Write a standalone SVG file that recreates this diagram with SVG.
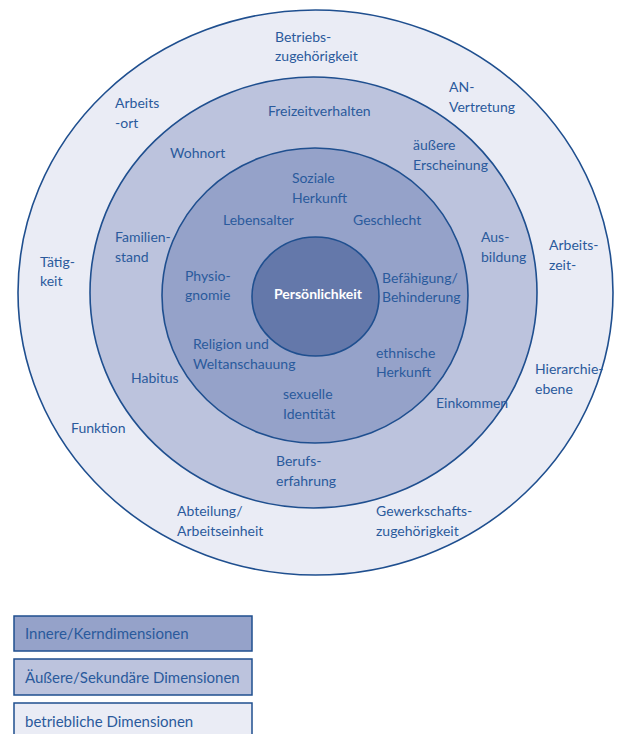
<svg xmlns="http://www.w3.org/2000/svg" width="620" height="734" viewBox="0 0 620 734">
<style>
.ring{stroke:#1f4f8f;stroke-width:1.6}
.t{font-family:Lato,"Open Sans","DejaVu Sans",sans-serif;font-size:14px;fill:#2a5a9c}
.l{font-family:Lato,"Open Sans","DejaVu Sans",sans-serif;font-size:15px;fill:#2a5a9c}
.c{font-family:Lato,"Open Sans","DejaVu Sans",sans-serif;font-size:14px;font-weight:bold;fill:#ffffff}
.lg{stroke:#1f4f8f;stroke-width:1.5}
</style>
<rect width="620" height="734" fill="#ffffff"/>
<g id="ring-betrieblich">
<ellipse class="ring" cx="315.5" cy="292.5" rx="297.5" ry="282.5" fill="#eaecf5"/>
</g>
<g id="ring-aeussere">
<ellipse class="ring" cx="313.5" cy="292.5" rx="223.5" ry="215.5" fill="#bcc3dd"/>
</g>
<g id="ring-innere">
<ellipse class="ring" cx="315" cy="295.5" rx="153" ry="147.5" fill="#95a2c9"/>
</g>
<g id="kern">
<ellipse class="ring" cx="315.5" cy="296.5" rx="63.5" ry="59.5" fill="#6478aa"/>
<text class="c" x="318" y="299" text-anchor="middle">Persönlichkeit</text>
</g>
<g id="labels-betrieblich">
<text class="t" x="275" y="42">Betriebs-</text>
<text class="t" x="275" y="61">zugehörigkeit</text>
<text class="t" x="115" y="108">Arbeits</text>
<text class="t" x="115" y="128">-ort</text>
<text class="t" x="449" y="92">AN-</text>
<text class="t" x="449" y="112">Vertretung</text>
<text class="t" x="40" y="267">Tätig-</text>
<text class="t" x="40" y="286">keit</text>
<text class="t" x="549" y="250">Arbeits-</text>
<text class="t" x="549" y="270">zeit-</text>
<text class="t" x="535" y="374">Hierarchie-</text>
<text class="t" x="535" y="394">ebene</text>
<text class="t" x="71" y="433">Funktion</text>
<text class="t" x="177" y="516">Abteilung/</text>
<text class="t" x="177" y="536">Arbeitseinheit</text>
<text class="t" x="376" y="516">Gewerkschafts-</text>
<text class="t" x="376" y="536">zugehörigkeit</text>
</g>
<g id="labels-aeussere">
<text class="t" x="268" y="116">Freizeitverhalten</text>
<text class="t" x="170" y="158">Wohnort</text>
<text class="t" x="413" y="150">äußere</text>
<text class="t" x="413" y="170">Erscheinung</text>
<text class="t" x="115" y="242">Familien-</text>
<text class="t" x="115" y="262">stand</text>
<text class="t" x="481" y="242">Aus-</text>
<text class="t" x="481" y="262">bildung</text>
<text class="t" x="131" y="383">Habitus</text>
<text class="t" x="436" y="408">Einkommen</text>
<text class="t" x="276" y="466">Berufs-</text>
<text class="t" x="276" y="486">erfahrung</text>
</g>
<g id="labels-innere">
<text class="t" x="292" y="183">Soziale</text>
<text class="t" x="292" y="203">Herkunft</text>
<text class="t" x="223" y="225">Lebensalter</text>
<text class="t" x="353" y="225">Geschlecht</text>
<text class="t" x="185" y="281">Physio-</text>
<text class="t" x="185" y="300">gnomie</text>
<text class="t" x="382" y="283">Befähigung/</text>
<text class="t" x="382" y="302">Behinderung</text>
<text class="t" x="193" y="349">Religion und</text>
<text class="t" x="193" y="369">Weltanschauung</text>
<text class="t" x="376" y="358">ethnische</text>
<text class="t" x="376" y="377">Herkunft</text>
<text class="t" x="283" y="399">sexuelle</text>
<text class="t" x="283" y="419">Identität</text>
</g>
<g id="connectors"></g>
<g id="legend">
<g id="legend-innere">
<rect class="lg" x="14" y="616" width="238" height="35" fill="#95a2c9"/>
<text class="l" x="25" y="639">Innere/Kerndimensionen</text>
</g>
<g id="legend-aeussere">
<rect class="lg" x="14" y="659" width="238" height="36" fill="#bcc3dd"/>
<text class="l" x="25" y="683">Äußere/Sekundäre Dimensionen</text>
</g>
<g id="legend-betrieblich">
<rect class="lg" x="14" y="703" width="238" height="40" fill="#eaecf5"/>
<text class="l" x="25" y="727">betriebliche Dimensionen</text>
</g>
</g>
</svg>
